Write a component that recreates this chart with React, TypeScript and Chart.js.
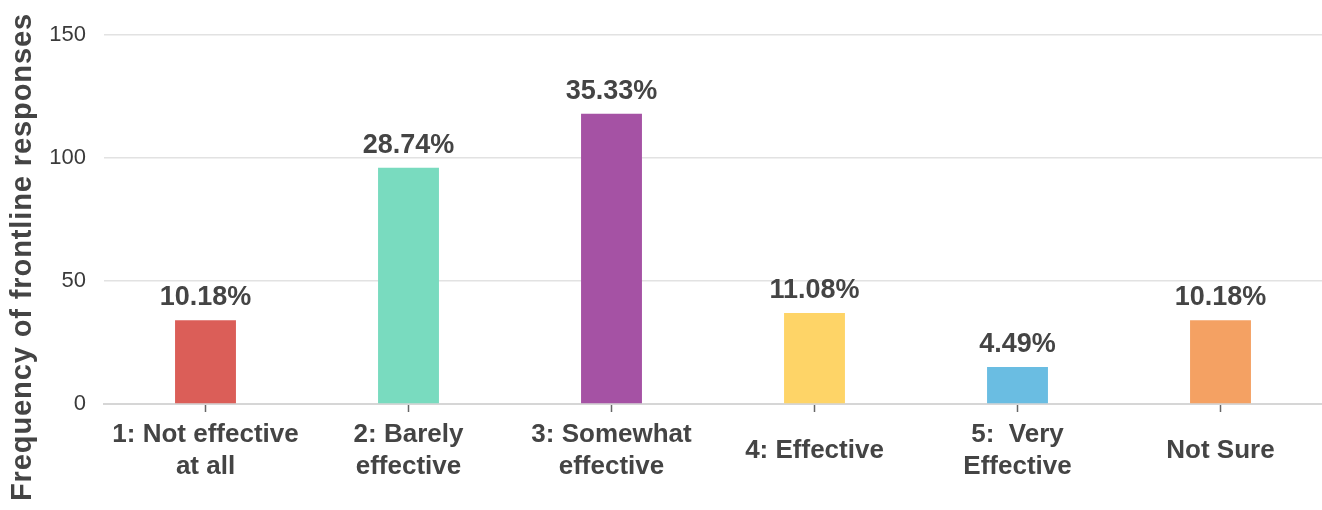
import React, { useEffect, useRef } from "react";
import { Chart, registerables } from "chart.js";

Chart.register(...registerables);

const categories: (string | string[])[] = [
  ["1: Not effective", "at all"],
  ["2: Barely", "effective"],
  ["3: Somewhat", "effective"],
  "4: Effective",
  ["5:  Very", "Effective"],
  "Not Sure",
];
const responses = [34, 96, 118, 37, 15, 34];
const percentLabels = ["10.18%", "28.74%", "35.33%", "11.08%", "4.49%", "10.18%"];
const barColors = ["#DB5E58", "#79DBBF", "#A552A4", "#FED467", "#6ABDE2", "#F4A163"];
const yTicks = [0, 50, 100, 150];
const yTitle = "Frequency of frontline responses";

const FONT = "'Liberation Sans', Arial, Helvetica, sans-serif";

const valueLabelPlugin = {
  id: "valueLabels",
  afterDatasetsDraw(chart: any) {
    const ctx = chart.ctx;
    const meta = chart.getDatasetMeta(0);
    ctx.save();
    ctx.font = `bold 27px ${FONT}`;
    ctx.fillStyle = "#444";
    ctx.textAlign = "center";
    ctx.textBaseline = "bottom";
    meta.data.forEach((bar: any, i: number) => {
      ctx.fillText(percentLabels[i], bar.x, bar.y - 9);
    });
    ctx.restore();
  },
};

const yTitlePlugin = {
  id: "yTitle",
  afterDraw(chart: any) {
    const ctx = chart.ctx;
    ctx.save();
    ctx.translate(23, 257);
    ctx.rotate(-Math.PI / 2);
    ctx.font = `bold 29px ${FONT}`;
    try {
      (ctx as any).letterSpacing = "0.9px";
    } catch (e) {}
    ctx.fillStyle = "#444";
    ctx.textAlign = "center";
    ctx.textBaseline = "middle";
    ctx.fillText(yTitle, 0, 0);
    ctx.restore();
  },
};

export default function App() {
  const canvasRef = useRef<HTMLCanvasElement | null>(null);

  useEffect(() => {
    if (!canvasRef.current) return;
    const chart = new Chart(canvasRef.current, {
      type: "bar",
      data: {
        labels: categories,
        datasets: [
          {
            data: responses,
            backgroundColor: barColors,
            borderWidth: 0,
            barPercentage: 0.3,
            categoryPercentage: 1,
          },
        ],
      },
      options: {
        responsive: false,
        animation: false,
        layout: { padding: { top: 35, right: 0, bottom: 0, left: 0 } },
        plugins: {
          legend: { display: false },
          tooltip: { enabled: false },
          title: { display: false },
        },
        scales: {
          x: {
            grid: {
              offset: false,
              drawOnChartArea: false,
              drawTicks: true,
              tickLength: 8,
              tickColor: "#666",
              tickWidth: 1.5,
            },
            border: { display: true, color: "#d6d6d6", width: 2 },
            ticks: {
              color: "#444",
              font: { family: FONT, size: 26, weight: "bold", lineHeight: 1.24 },
              padding: 23,
              maxRotation: 0,
              minRotation: 0,
              autoSkip: false,
              crossAlign: "center",
            },
            afterFit(scale: any) {
              scale.height = 106;
            },
          },
          y: {
            min: 0,
            max: 150,
            afterBuildTicks(scale: any) {
              scale.ticks = yTicks.map((v) => ({ value: v }));
            },
            grid: { color: "#e2e2e2", lineWidth: 1.5, drawTicks: false },
            border: { display: false },
            ticks: {
              color: "#3a3a3a",
              font: { family: FONT, size: 22, weight: "normal" },
              padding: 18,
            },
            afterFit(scale: any) {
              scale.width = 104;
            },
          },
        },
      },
      plugins: [valueLabelPlugin, yTitlePlugin],
    });
    return () => chart.destroy();
  }, []);

  return (
    <div style={{ position: "absolute", left: 0, top: 0, width: 1322, height: 510, background: "#fff" }}>
      <canvas ref={canvasRef} width={1322} height={510} />
    </div>
  );
}
